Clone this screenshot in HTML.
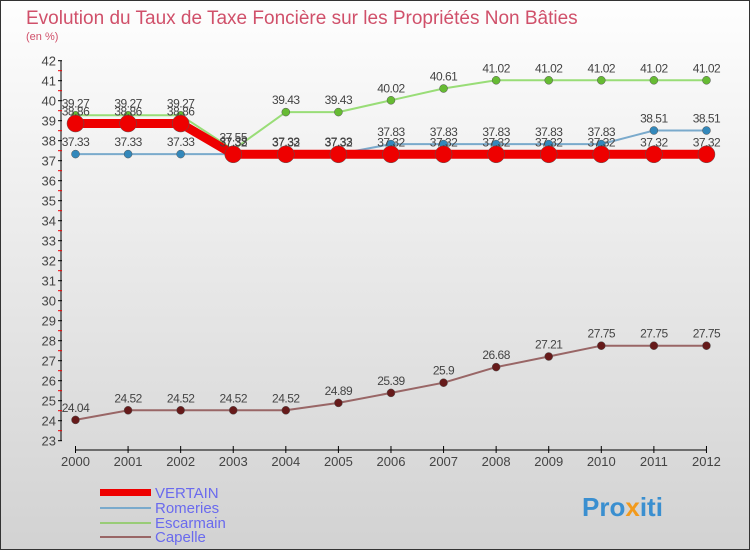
<!DOCTYPE html>
<html><head><meta charset="utf-8"><style>
body{margin:0;width:750px;height:550px;overflow:hidden;font-family:"Liberation Sans",sans-serif}
</style></head><body>
<svg width="750" height="550" xmlns="http://www.w3.org/2000/svg">
<defs><linearGradient id="bg" x1="0" y1="0" x2="0" y2="1"><stop offset="0" stop-color="#fefefe"/><stop offset="1" stop-color="#d2d2d2"/></linearGradient></defs>
<rect x="0.5" y="0.5" width="749" height="549" fill="url(#bg)" stroke="#333"/>
<text x="26" y="24" font-size="19" fill="#d0506a">Evolution du Taux de Taxe Foncière sur les Propriétés Non Bâties</text>
<text x="26" y="40" font-size="11" fill="#d0506a">(en %)</text>
<g id="axes"></g>
<g id="series"></g>
<g>
<rect x="100" y="489" width="51" height="7" fill="#e00"/>
<text x="155" y="498" font-size="15" fill="#6a6aee">VERTAIN</text>
<rect x="100" y="507" width="51" height="2" fill="#7aaacc"/>
<text x="155" y="513" font-size="15" fill="#6a6aee">Romeries</text>
<rect x="100" y="522" width="51" height="2" fill="#99cc77"/>
<text x="155" y="528" font-size="15" fill="#6a6aee">Escarmain</text>
<rect x="100" y="536" width="51" height="2" fill="#996666"/>
<text x="155" y="542" font-size="15" fill="#6a6aee">Capelle</text>
</g>
<text x="582" y="516" font-size="26" font-weight="bold" fill="#3a8fd0">Pro<tspan fill="#f29a1c">x</tspan>iti</text>
</svg>
<script>
const years=[2000,2001,2002,2003,2004,2005,2006,2007,2008,2009,2010,2011,2012];
const vertain=[38.86,38.86,38.86,37.32,37.32,37.32,37.32,37.32,37.32,37.32,37.32,37.32,37.32];
const romeries=[37.33,37.33,37.33,37.33,37.33,37.33,37.83,37.83,37.83,37.83,37.83,38.51,38.51];
const escarmain=[39.27,39.27,39.27,37.55,39.43,39.43,40.02,40.61,41.02,41.02,41.02,41.02,41.02];
const capelle=[24.04,24.52,24.52,24.52,24.52,24.89,25.39,25.9,26.68,27.21,27.75,27.75,27.75];
const yTicks=[23,24,25,26,27,28,29,30,31,32,33,34,35,36,37,38,39,40,41,42];
const NS="http://www.w3.org/2000/svg";
const X=i=>75.5+i*52.58;
const Y=v=>60.7+(42-v)*20;
function mk(t,a,p){const e=document.createElementNS(NS,t);for(const k in a)e.setAttribute(k,a[k]);p.appendChild(e);return e;}
const ax=document.getElementById('axes');
let l=mk('line',{x1:61,y1:Y(42),x2:61,y2:Y(23),stroke:'#000'},ax);


yTicks.forEach(v=>{
 mk('line',{x1:58,y1:Y(v),x2:62,y2:Y(v),stroke:'#000'},ax);
 if(v<42) mk('line',{x1:58,y1:Y(v+0.5),x2:62,y2:Y(v+0.5),stroke:'#e00'},ax);
 const t=mk('text',{x:56,y:Y(v)+5,'font-size':13,fill:'#444','text-anchor':'end'},ax);
 t.textContent=v;
 
 
});
l=mk('line',{x1:X(0),y1:450,x2:X(12),y2:450,stroke:'#000'},ax);


years.forEach((y,i)=>{
 mk('line',{x1:X(i),y1:446,x2:X(i),y2:453,stroke:'#000'},ax);
 const t=mk('text',{x:X(i),y:466,'font-size':13,fill:'#444','text-anchor':'middle'},ax);
 t.textContent=y;
 
 
});
const sg=document.getElementById('series');
function series(name,vals,color,w,r,dot){
 const g=mk('g',{},sg);
 
 
 const p=mk('polyline',{points:vals.map((v,i)=>X(i)+','+Y(v)).join(' '),fill:'none',stroke:color,'stroke-width':w,'stroke-linejoin':'round'},g);
 
 
 vals.forEach((v,i)=>{
  const c=mk('circle',{cx:X(i),cy:Y(v),r:r,fill:dot,stroke:'#555','stroke-width':0.5},g);
  
  
  const t=mk('text',{x:X(i),y:Y(v)-8,'font-size':12,fill:'#444','text-anchor':'middle','letter-spacing':'-0.5'},g);
  t.textContent=String(v);
  
  
 });
}
series('capelle',capelle,'#996666',2,4,'#661a1a');
series('escarmain',escarmain,'#99dd77',2,4,'#66bb33');
series('romeries',romeries,'#7aaacc',2,4,'#3388bb');
series('vertain',vertain,'#e00',9,8.5,'#e00');
</script>
</body></html>
